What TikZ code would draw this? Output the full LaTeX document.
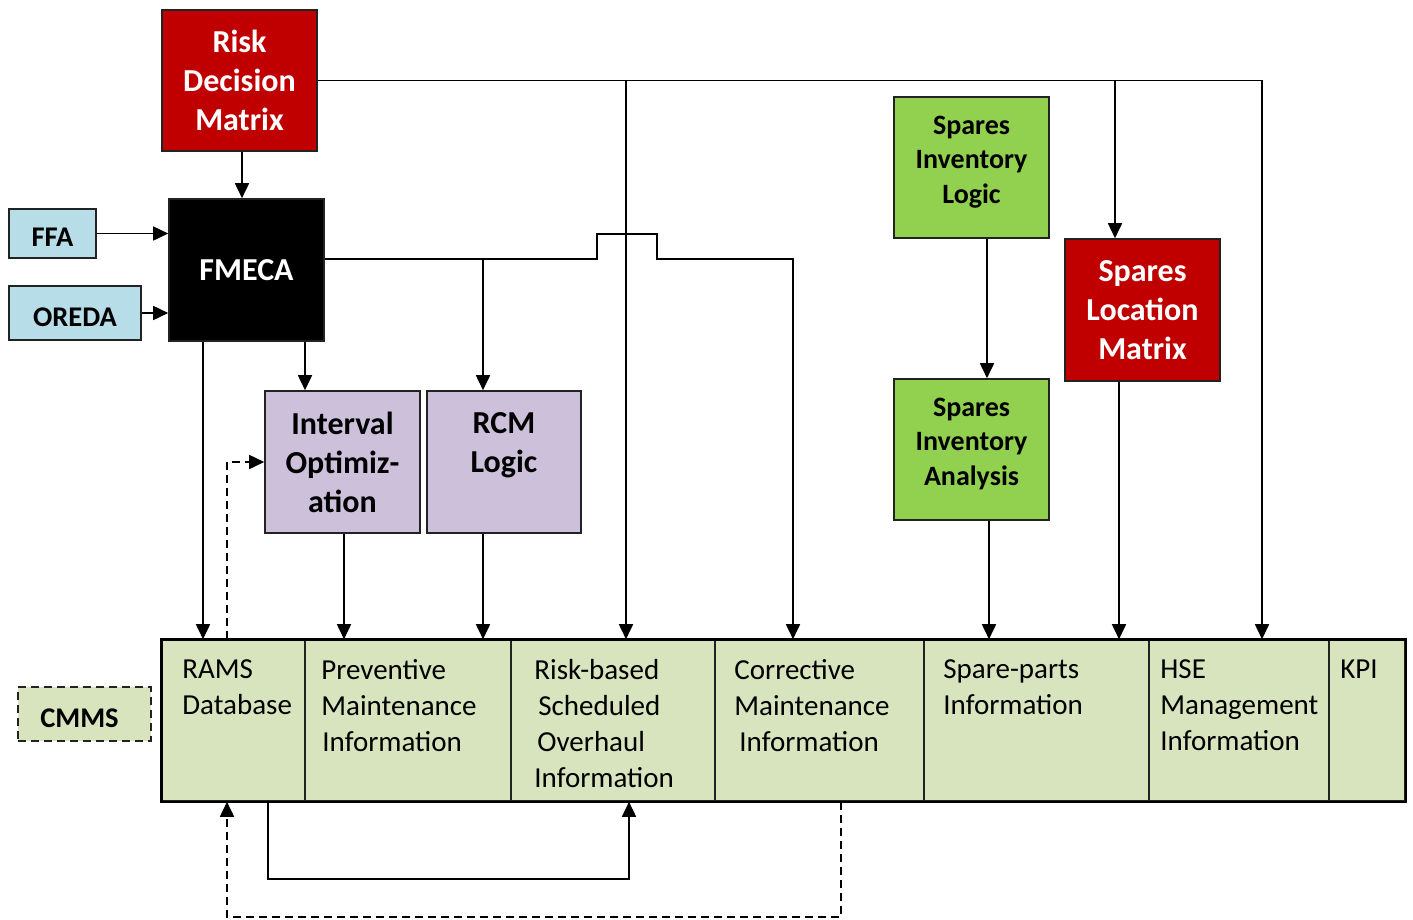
\documentclass[tikz,border=0pt]{standalone}
\usepackage{fontspec}
\setmainfont{Carlito}
\usetikzlibrary{arrows.meta}

\definecolor{riskred}{HTML}{C00000}
\definecolor{sparegreen}{HTML}{92D050}
\definecolor{lilac}{HTML}{CCC0DA}
\definecolor{paleblue}{HTML}{B7DDE8}
\definecolor{cellgreen}{HTML}{D7E4BD}
\definecolor{edge}{HTML}{222222}

\begin{document}
\begin{tikzpicture}[x=1pt,y=-1pt,
  box/.style={draw=edge, line width=1.6pt, minimum width=154pt, minimum height=140pt,
    inner sep=2pt, align=center, font=\bfseries\fontsize{32}{39}\selectfont},
  redbox/.style={box, fill=riskred, text=white},
  lilacbox/.style={box, fill=lilac},
  greenbox/.style={box, fill=sparegreen, font=\bfseries\fontsize{28}{34.5}\selectfont},
  srcbox/.style={draw=edge, line width=1.6pt, fill=paleblue, inner sep=0pt,
    text height=26pt, text depth=0pt,
    font=\bfseries\fontsize{28.5}{34}\selectfont},
  cell/.style={draw=edge, line width=1.6pt, fill=cellgreen, minimum height=161pt, inner sep=0pt},
  celltext/.style={anchor=north west, inner sep=0pt, align=left, font=\fontsize{29}{36}\selectfont},
  conn/.style={line width=1.7pt, draw=black},
  arr/.style={conn, -{Triangle[length=15pt,width=14pt]}},
  darr/.style={arr, dash pattern=on 8pt off 5pt},
]
\useasboundingbox (0,0) rectangle (1413,919);

% ---- upper blocks ----
\node[redbox, minimum width=155pt, minimum height=141pt] (rdm) at (239.5,80.5) {Risk\\Decision\\Matrix};
\node[box, fill=black, text=white, minimum width=155pt, minimum height=142pt] (fm) at (246.5,270) {FMECA};
\node[srcbox, minimum width=87pt, minimum height=49pt] (ffa) at (52.5,233.5) {FFA};
\node[srcbox, minimum width=132pt, minimum height=54pt] (oreda) at (75,313) {OREDA};
\node[lilacbox, minimum width=155pt, minimum height=142pt] (io) at (342.5,462) {Interval\\Optimiz-\\ation};
\node[lilacbox, minimum width=154pt, minimum height=142pt] (rcm) at (504,462) {RCM\\Logic\\\phantom{M}};
\node[greenbox, minimum width=155pt, minimum height=141pt] (sil) at (971.5,167.5) {Spares\\Inventory\\Logic\\[-19pt]\mbox{}};
\node[greenbox, minimum width=155pt, minimum height=141pt] (sia) at (971.5,449.5) {Spares\\Inventory\\Analysis\\[-19pt]\mbox{}};
\node[redbox, minimum width=155pt, minimum height=142pt] (slm) at (1142.5,310) {Spares\\Location\\Matrix};
\node[srcbox, fill=cellgreen, dash pattern=on 8pt off 5pt, minimum width=133pt, minimum height=54pt] (cmms) at (84.5,714) {CMMS\hspace*{10pt}};

% ---- CMMS information bar ----
\node[cell, minimum width=143pt] (rams)  at (233.5,720.5) {};
\node[cell, minimum width=206pt] (prev)  at (408,720.5) {};
\node[cell, minimum width=204pt] (rsk)   at (613,720.5) {};
\node[cell, minimum width=209pt] (corr)  at (819.5,720.5) {};
\node[cell, minimum width=225pt] (spare) at (1036.5,720.5) {};
\node[cell, minimum width=180pt] (hse)   at (1239,720.5) {};
\node[cell, minimum width=76pt]  (kpi)   at (1367,720.5) {};
\draw[line width=2.6pt, draw=black] (rams.north west) rectangle (kpi.south east);

\node[celltext] at ([xshift=21pt,yshift=-20pt]rams.north west) {RAMS\\Database};
\node[celltext] at ([xshift=17pt,yshift=-20pt]prev.north west) {Preventive\\Maintenance\\\hspace*{1pt}Information};
\node[celltext] at ([xshift=24pt,yshift=-20pt]rsk.north west) {Risk-based\\\hspace*{4pt}Scheduled\\\hspace*{3pt}Overhaul\\Information};
\node[celltext] at ([xshift=20pt,yshift=-20pt]corr.north west) {Corrective\\Maintenance\\\hspace*{5pt}Information};
\node[celltext] at ([xshift=20pt,yshift=-20pt]spare.north west) {Spare-parts\\Information};
\node[celltext] at ([xshift=12pt,yshift=-20pt]hse.north west) {HSE\\Management\\Information};
\node[celltext] at ([xshift=12pt,yshift=-20pt]kpi.north west) {KPI};

% ---- ports ----
\coordinate (rdmS)    at ([xshift=2.5pt]rdm.south);
\coordinate (fmout)   at ([yshift=11pt]fm.east);
\coordinate (fmR)     at ([xshift=-43.5pt]fm.south);
\coordinate (ioIn)    at ([xshift=-37.5pt]io.north);
\coordinate (rcmIn)   at ([xshift=-21pt]rcm.north);
\coordinate (corrIn)  at ([xshift=-26.5pt]corr.north);
\coordinate (hseIn)   at ([xshift=23pt]hse.north);
\coordinate (rskIn)   at ([xshift=13pt]rsk.north);
\coordinate (slmIn)   at ([xshift=-27.5pt]slm.north);
\coordinate (silOut)  at ([xshift=15.5pt]sil.south);
\coordinate (siaOut)  at ([xshift=17.5pt]sia.south);
\coordinate (slmOut)  at ([xshift=-23.5pt]slm.south);
\coordinate (ioOut)   at ([xshift=1.5pt]io.south);
\coordinate (rcmOut)  at ([xshift=-21pt]rcm.south);
\coordinate (ramsUp)  at ([xshift=-6.5pt]rams.north);
\coordinate (ramsDn)  at ([xshift=34.5pt]rams.south);
\coordinate (ramsBk)  at ([xshift=-6.5pt]rams.south);
\coordinate (rskDn)   at ([xshift=16pt]rsk.south);
\coordinate (corrDn)  at ([xshift=21.5pt]corr.south);

% ---- connectors ----
\draw[arr] (rdmS) -- (rdmS |- fm.north);
\draw[arr] (ffa.east) -- (ffa.east -| fm.west);
\draw[arr] (oreda.east) -- (oreda.east -| fm.west);

\draw[arr] (rdm.east) -| (hseIn);
\draw[arr] (rskIn |- rdm.east) -- (rskIn);
\draw[arr] (slmIn |- rdm.east) -- (slmIn);

\draw[arr] (fmout) -- ++(272,0) -- ++(0,-25) -- ++(60,0) -- ++(0,25) -| (corrIn);
\draw[arr] (rcmIn |- fmout) -- (rcmIn);
\draw[arr] (fmR) -- (fmR |- rams.north);
\draw[arr] (ioIn |- fm.south) -- (ioIn);

\draw[arr] (ioOut) -- (ioOut |- prev.north);
\draw[arr] (rcmOut) -- (rcmOut |- prev.north);

\draw[arr] (silOut) -- (silOut |- sia.north);
\draw[arr] (siaOut) -- (siaOut |- spare.north);
\draw[arr] (slmOut) -- (slmOut |- spare.north);

\draw[darr] (ramsUp) |- (io.west);
\draw[arr] (ramsDn) -- ++(0,77) -| (rskDn);
\draw[darr] (corrDn) -- ++(0,115) -| (ramsBk);
\end{tikzpicture}
\end{document}
